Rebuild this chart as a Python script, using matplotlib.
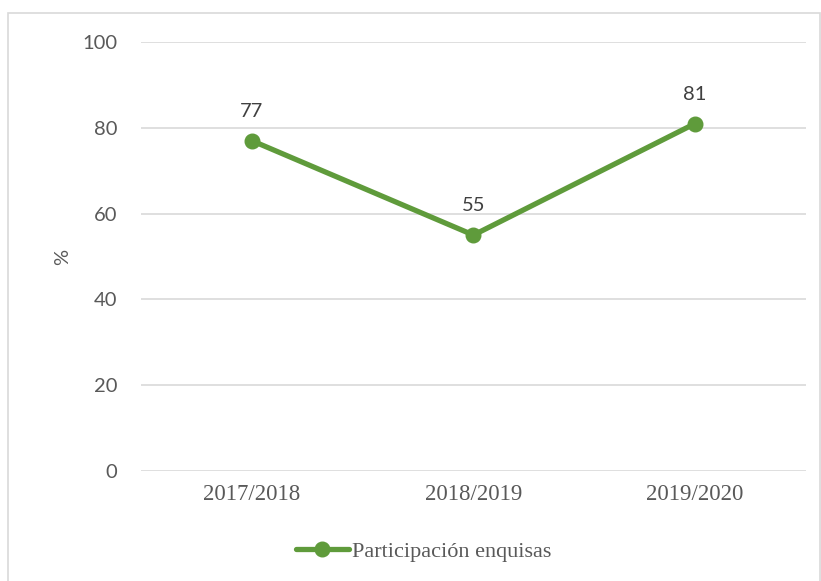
import matplotlib
matplotlib.use("Agg")
import matplotlib.pyplot as plt
from matplotlib.patches import Rectangle

# Chart data
years = ["2017/2018", "2018/2019", "2019/2020"]
participation = [77, 55, 81]
y_ticks = [0, 20, 40, 60, 80, 100]

green = "#5F9B3B"
grey_text = "#595959"

fig = plt.figure(figsize=(8.21, 5.81), dpi=100)
ax = fig.add_axes([0.1717, 0.1893, 0.81, 0.7384])

x = list(range(len(years)))
ax.plot(x, participation, color=green, linewidth=3.8, marker="o",
        markersize=10.5, label="Participación enquisas", solid_capstyle="round")

# Data labels
for xi, v in zip(x, participation):
    ax.annotate(str(v), (xi, v), xytext=(0, 15), textcoords="offset points",
                ha="center", va="bottom", fontsize=14.5, color="#404040",
                family="Lato")

ax.set_xlim(-0.5, len(years) - 0.5)
ax.set_ylim(0, 100)
ax.set_yticks(y_ticks)
ax.set_xticks(x)
ax.set_xticklabels(years, family="Liberation Serif", fontsize=16.5, color=grey_text)
ax.set_yticklabels([str(t) for t in y_ticks], family="Lato", fontsize=14.5, color=grey_text)
ax.tick_params(axis="both", length=0)
ax.tick_params(axis="y", pad=17)
ax.tick_params(axis="x", pad=9)

ax.grid(axis="y", color="#D9D9D9", linewidth=1.2)
ax.set_axisbelow(True)
for s in ax.spines.values():
    s.set_visible(False)

ax.set_ylabel("%", family="Lato", fontsize=14.5, color=grey_text, labelpad=8)

leg = fig.legend(loc="center", bbox_to_anchor=(0.516, 0.051), frameon=False,
                 prop={"family": "Liberation Serif", "size": 16},
                 handlelength=2.4, handletextpad=0.15)
for t in leg.get_texts():
    t.set_color(grey_text)

# Outer chart border
fig.patches.append(Rectangle((8 / 821, -0.01), 812 / 821, 1 - 13 / 581 + 0.01,
                             transform=fig.transFigure, fill=False,
                             edgecolor="#D9D9D9", linewidth=1.2))

fig.savefig("out.png", dpi=100)
